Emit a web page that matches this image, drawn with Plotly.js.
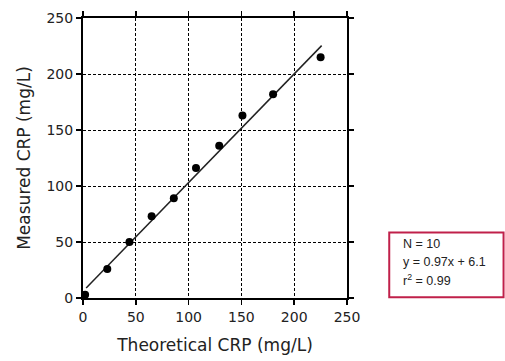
<!DOCTYPE html>
<html><head><meta charset="utf-8">
<script src="https://cdn.plot.ly/plotly-3.0.1.min.js"></script>
<style>html,body{margin:0;padding:0;background:#fff;}#chart{width:505px;height:361px;}</style>
</head><body><div id="chart"></div>
<script>
const theoretical = [2, 23, 44, 65, 86, 107, 129, 151, 180, 225];
const measured = [3, 26, 50, 73, 89, 116, 136, 163, 182, 215];
const slope = 0.97, intercept = 6.1;
const fitX = [3, 226];
const fitY = fitX.map(x => slope * x + intercept);
const statLines = ["N = 10", "y = 0.97x + 6.1", "r<sup>2</sup> = 0.99"];
const tickVals = [0, 50, 100, 150, 200, 250];

const F = "DejaVu Sans, sans-serif";
const axisCommon = {
  range: [0, 250], tickvals: tickVals, ticks: "outside", ticklen: 5, tickwidth: 1.5, tickcolor: "#000",
  showline: true, linecolor: "#000", linewidth: 2, mirror: "ticks",
  showgrid: true, gridcolor: "#000", gridwidth: 1, griddash: "3px,2px",
  zeroline: false, tickfont: {family: F, size: 14, color: "#222"}, fixedrange: true
};
const traces = [
  {x: fitX, y: fitY, mode: "lines", line: {color: "#222", width: 1.5}, hoverinfo: "skip", cliponaxis: false},
  {x: theoretical, y: measured, mode: "markers", marker: {color: "#000", size: 8}, cliponaxis: false}
];
const ann = statLines.map((t, i) => ({
  xref: "paper", yref: "paper", x: 1.203, y: 0.192 - i * 0.064, xanchor: "left", yanchor: "middle",
  text: t, showarrow: false, font: {family: "Liberation Sans, Arial, sans-serif", size: 12.5, color: "#222"}
}));
const layout = {
  width: 505, height: 361, margin: {l: 83, r: 158, t: 18, b: 63},
  paper_bgcolor: "#fff", plot_bgcolor: "#fff", showlegend: false,
  xaxis: Object.assign({}, axisCommon, {title: {text: "Theoretical CRP (mg/L)", font: {family: F, size: 17, color: "#222"}, standoff: 15}}),
  yaxis: Object.assign({}, axisCommon, {title: {text: "Measured CRP (mg/L)", font: {family: F, size: 17, color: "#222"}, standoff: 12}}),
  shapes: [{type: "rect", xref: "paper", yref: "paper", x0: 1.160, x1: 1.593, y0: 0.003, y1: 0.234,
    line: {color: "#c0204a", width: 2}, fillcolor: "rgba(0,0,0,0)"}],
  annotations: ann
};
Plotly.newPlot("chart", traces, layout, {displayModeBar: false, staticPlot: true});
</script></body></html>
